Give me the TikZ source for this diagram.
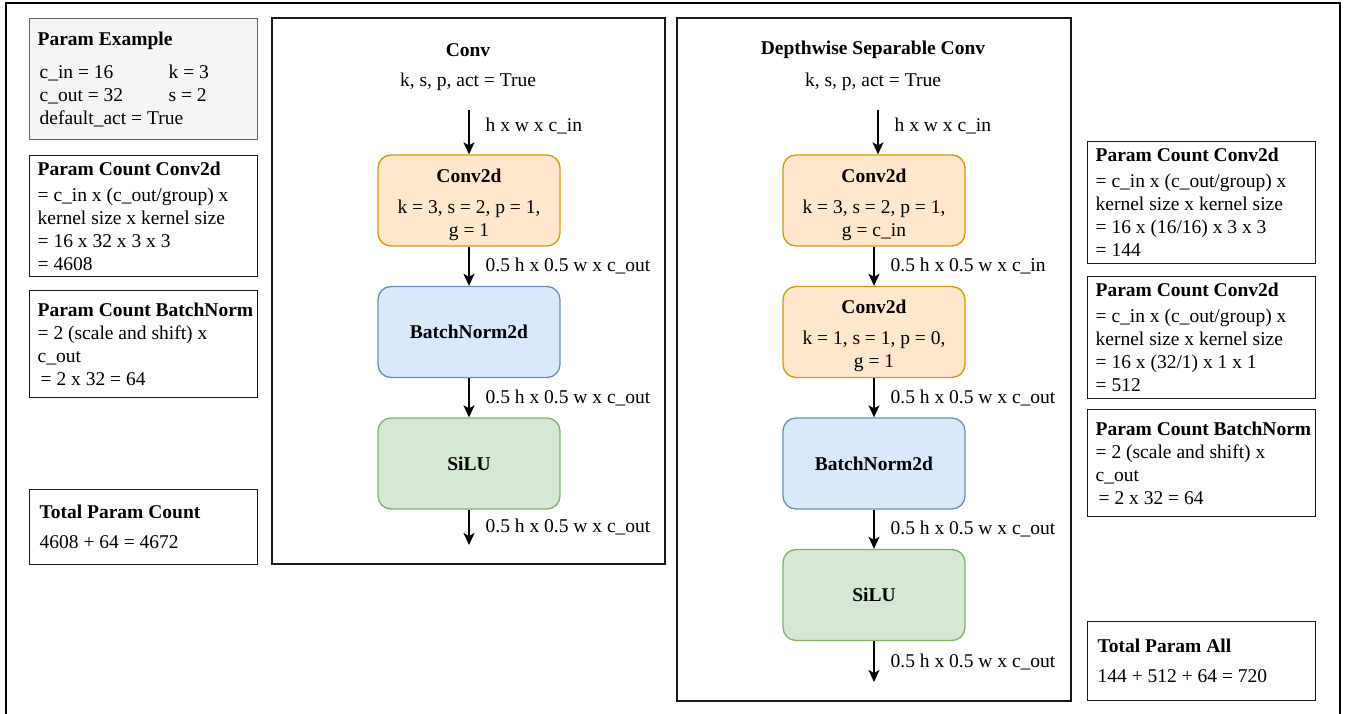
\documentclass[tikz,border=0pt]{standalone}
\usepackage{fontspec}
\setmainfont{Liberation Serif}
\usepackage{tikz}
\usetikzlibrary{arrows.meta,positioning}

\definecolor{convfill}{HTML}{FFE6CC}
\definecolor{convdraw}{HTML}{D79B00}
\definecolor{bnfill}{HTML}{DAE8FC}
\definecolor{bndraw}{HTML}{6C8EBF}
\definecolor{actfill}{HTML}{D5E8D4}
\definecolor{actdraw}{HTML}{82B366}
\definecolor{notefill}{HTML}{F5F5F5}
\definecolor{notedraw}{HTML}{666666}

\begin{document}
\begin{tikzpicture}[x=1pt,y=-1pt,>={Stealth[length=12pt,width=11pt,inset=3pt]},
                    auto,node distance=131.5pt,line width=1.4pt]
  \tikzstyle{every node}=[font=\fontsize{19.5pt}{23pt}\selectfont]
  \tikzstyle{block}=[draw=black!90,line width=1.3pt]
  \tikzstyle{layer}=[rounded corners=13pt,line width=1.3pt,minimum width=182pt,
                     minimum height=91pt,align=center]
  \tikzstyle{conv}=[layer,fill=convfill,draw=convdraw]
  \tikzstyle{bn}=[layer,fill=bnfill,draw=bndraw]
  \tikzstyle{act}=[layer,fill=actfill,draw=actdraw]
  \tikzstyle{countbox}=[draw=black!90,line width=1.3pt,anchor=north west,
                        text width=212pt,inner xsep=8pt,align=flush left]
  \tikzstyle{totalbox}=[countbox,text width=208pt,inner xsep=10pt]
  \tikzstyle{dimlbl}=[inner sep=0pt,xshift=16pt]

  \useasboundingbox (0,0) rectangle (1347,714);
  \draw[line width=1.6pt] (6,714) -- (6,3) -- (1340,3) -- (1340,714);

  % notes for the plain conv
  \node[countbox,fill=notefill,draw=notedraw,minimum height=121pt] (PE) at (29,18)
    {\textbf{Param Example}\\[10pt]
     \hspace*{2pt}\makebox[129pt][l]{c\_in = 16}k = 3\\
     \hspace*{2pt}\makebox[129pt][l]{c\_out = 32}s = 2\\
     \hspace*{2pt}default\_act = True};
  \node[countbox,minimum height=121pt] (PC) at (29,155)
    {\textbf{Param Count Conv2d}\\[3pt]
     = c\_in x (c\_out/group) x\\
     kernel size x kernel size\\
     = 16 x 32 x 3 x 3\\
     = 4608};
  \node[countbox,minimum height=107pt] (PB) at (29,290)
    {\mbox{\textbf{Param Count BatchNorm}}\\
     = 2 (scale and shift) x\\
     c\_out\\
     \hspace*{3pt}= 2 x 32 = 64};
  \node[totalbox,minimum height=75pt] (PT) at (29,489)
    {\textbf{Total Param Count}\\[7pt]
     4608 + 64 = 4672};

  % plain conv block
  \node[block,minimum width=393pt,minimum height=546pt] (CF) at (468.5,291) {};
  \node (CT) at (468,50) {\textbf{Conv}};
  \node (CP) [below of=CT,node distance=32pt] {k, s, p, act = True};
  \coordinate (in1) at (469,110);
  \node[conv] (C1) at (469,200.5)
    {\rule{0pt}{22pt}\textbf{Conv2d}\\[8pt]k = 3, s = 2, p = 1,\\g = 1};
  \node[bn]   (B1) [below of=C1] {\textbf{BatchNorm2d}};
  \node[act]  (A1) [below of=B1] {\textbf{SiLU}};
  \coordinate (out1) at (469,545);

  \path[->] (in1) edge node[dimlbl,pos=.35] {h x w x c\_in} (C1)
            (C1)  edge node[dimlbl] {0.5 h x 0.5 w x c\_out} (B1)
            (B1)  edge node[dimlbl] {0.5 h x 0.5 w x c\_out} (A1)
            (A1)  edge node[dimlbl] {0.5 h x 0.5 w x c\_out} (out1);

  % depthwise separable block
  \node[block,minimum width=394pt,minimum height=683pt] (DF) at (874,359.5) {};
  \node (DT) at (873,50) {\textbf{Depthwise Separable Conv}};
  \node (DP) [below of=DT,node distance=32pt] {k, s, p, act = True};
  \coordinate (in2) at (878,110);
  \node[conv] (D1) at (874,200.5)
    {\rule{0pt}{22pt}\textbf{Conv2d}\\[8pt]k = 3, s = 2, p = 1,\\g = c\_in};
  \node[conv] (D2) [below of=D1]
    {\rule{0pt}{22pt}\textbf{Conv2d}\\[8pt]k = 1, s = 1, p = 0,\\g = 1};
  \node[bn]   (D3) [below of=D2] {\textbf{BatchNorm2d}};
  \node[act]  (D4) [below of=D3] {\textbf{SiLU}};
  \coordinate (out2) at (874,682);

  \path[->] (in2) edge node[dimlbl,pos=.35] {h x w x c\_in} (in2 |- D1.north)
            (D1)  edge node[dimlbl] {0.5 h x 0.5 w x c\_in} (D2)
            (D2)  edge node[dimlbl] {0.5 h x 0.5 w x c\_out} (D3)
            (D3)  edge node[dimlbl] {0.5 h x 0.5 w x c\_out} (D4)
            (D4)  edge node[dimlbl] {0.5 h x 0.5 w x c\_out} (out2);

  % notes for the depthwise separable conv
  \node[countbox,minimum height=122pt] (QC1) at (1087,141)
    {\textbf{Param Count Conv2d}\\[3pt]
     = c\_in x (c\_out/group) x\\
     kernel size x kernel size\\
     = 16 x (16/16) x 3 x 3\\
     = 144};
  \node[countbox,minimum height=122pt] (QC2) at (1087,276)
    {\textbf{Param Count Conv2d}\\[3pt]
     = c\_in x (c\_out/group) x\\
     kernel size x kernel size\\
     = 16 x (32/1) x 1 x 1\\
     = 512};
  \node[countbox,minimum height=107pt] (QB) at (1087,409)
    {\mbox{\textbf{Param Count BatchNorm}}\\
     = 2 (scale and shift) x\\
     c\_out\\
     \hspace*{3pt}= 2 x 32 = 64};
  \node[totalbox,minimum height=79pt] (QT) at (1087,621)
    {\textbf{Total Param All}\\[7pt]
     144 + 512 + 64 = 720};
\end{tikzpicture}
\end{document}
